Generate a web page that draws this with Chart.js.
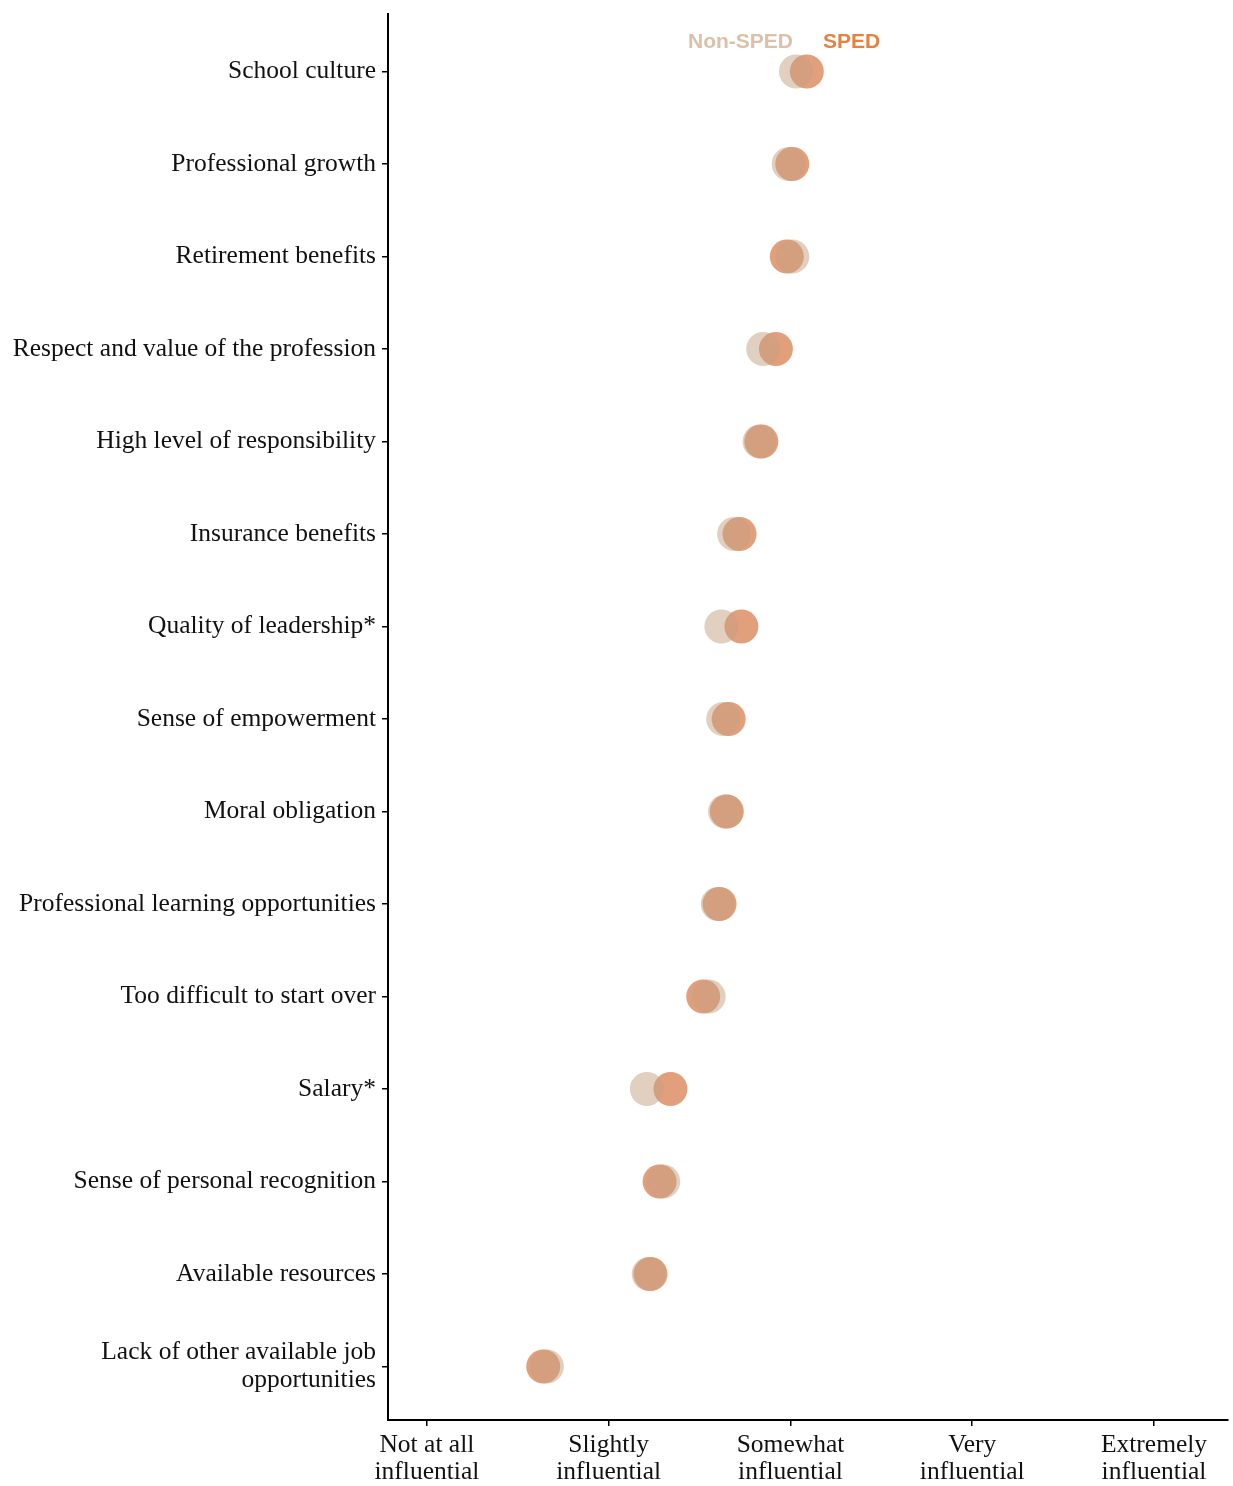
<!DOCTYPE html>
<html>
<head>
<meta charset="utf-8">
<script src="https://cdn.jsdelivr.net/npm/chart.js@4.4.0/dist/chart.umd.min.js"></script>
<style>
  html, body { margin: 0; padding: 0; background: #fff; }
  #wrap { width: 1233px; height: 1486px; }
</style>
</head>
<body>
<div id="wrap"><canvas id="dotChart"></canvas></div>
<script>
// factors, top to bottom
const factors = [
    'School culture',
    'Professional growth',
    'Retirement benefits',
    'Respect and value of the profession',
    'High level of responsibility',
    'Insurance benefits',
    'Quality of leadership*',
    'Sense of empowerment',
    'Moral obligation',
    'Professional learning opportunities',
    'Too difficult to start over',
    'Salary*',
    'Sense of personal recognition',
    'Available resources',
    ['Lack of other available job', 'opportunities']
];

// mean ratings (1 = not at all ... 5 = extremely)
const nonSped = [3.03, 2.99, 3.01, 2.85, 2.83, 2.69, 2.62, 2.63, 2.64, 2.60, 2.55, 2.21, 2.30, 2.22, 1.66];
const sped    = [3.09, 3.01, 2.98, 2.92, 2.84, 2.72, 2.73, 2.66, 2.65, 2.61, 2.52, 2.34, 2.28, 2.23, 1.64];

const scaleLabels = [
    ['Not at all', 'influential'],
    ['Slightly', 'influential'],
    ['Somewhat', 'influential'],
    ['Very', 'influential'],
    ['Extremely', 'influential']
];

const toPoints = arr => arr.map((v, i) => ({ x: v, y: i }));

const serif = '"Liberation Serif", "Times New Roman", serif';

// text legend inside the plot, like the original
const textLegend = {
    id: 'textLegend',
    afterDraw(chart) {
        const { ctx, chartArea } = chart;
        ctx.save();
        ctx.font = 'bold 21px "Liberation Sans", Arial, sans-serif';
        ctx.textBaseline = 'alphabetic';
        ctx.fillStyle = '#dcc0aa';
        ctx.fillText('Non-SPED', chartArea.left + 300, 48);
        ctx.fillStyle = '#e8803f';
        ctx.fillText('SPED', chartArea.left + 435, 48);
        ctx.restore();
    }
};

// no automatic label overhang padding, the plot box is fixed
function noPad(scale) {
    scale.paddingLeft = 0;
    scale.paddingRight = 0;
    scale.paddingTop = 0;
    scale.paddingBottom = 0;
}

const ctxDot = document.getElementById('dotChart').getContext('2d');
const dotChart = new Chart(ctxDot, {
    type: 'scatter',
    data: {
        datasets: [{
            label: 'Non-SPED',
            data: toPoints(nonSped),
            backgroundColor: 'rgba(195, 160, 130, 0.5)',
            borderWidth: 0,
            pointRadius: 17,
            pointHoverRadius: 17
        }, {
            label: 'SPED',
            data: toPoints(sped),
            backgroundColor: 'rgba(220, 138, 95, 0.82)',
            borderWidth: 0,
            pointRadius: 17,
            pointHoverRadius: 17
        }]
    },
    options: {
        responsive: true,
        maintainAspectRatio: false,
        animation: false,
        layout: { autoPadding: false, padding: { top: 14, right: 5, left: 0, bottom: 0 } },
        plugins: {
            legend: { display: false },
            tooltip: { enabled: false }
        },
        scales: {
            x: {
                type: 'linear',
                min: 0.786,
                max: 5.407,
                afterBuildTicks: scale => {
                    scale.ticks = scaleLabels.map((l, i) => ({ value: i + 1 }));
                },
                afterFit: scale => { scale.height = 66; noPad(scale); },
                border: { display: true, color: '#000', width: 2 },
                grid: { drawOnChartArea: false, color: '#000', tickLength: 6, lineWidth: 1.5 },
                ticks: {
                    color: '#111',
                    padding: 6,
                    maxRotation: 0,
                    autoSkip: false,
                    font: { family: serif, size: 25.5, lineHeight: 1.06 },
                    callback: v => scaleLabels[v - 1]
                }
            },
            y: {
                type: 'linear',
                reverse: true,
                min: -0.622,
                max: 14.578,
                afterBuildTicks: scale => {
                    scale.ticks = factors.map((f, i) => ({ value: i }));
                },
                afterFit: scale => { scale.width = 388; noPad(scale); },
                border: { display: true, color: '#000', width: 2 },
                grid: { drawOnChartArea: false, color: '#000', tickLength: 6, lineWidth: 1.5 },
                ticks: {
                    color: '#111',
                    padding: 6,
                    autoSkip: false,
                    font: { family: serif, size: 25.5, lineHeight: 1.1 },
                    callback: v => factors[v]
                }
            }
        }
    },
    plugins: [textLegend]
});
</script>
</body>
</html>
